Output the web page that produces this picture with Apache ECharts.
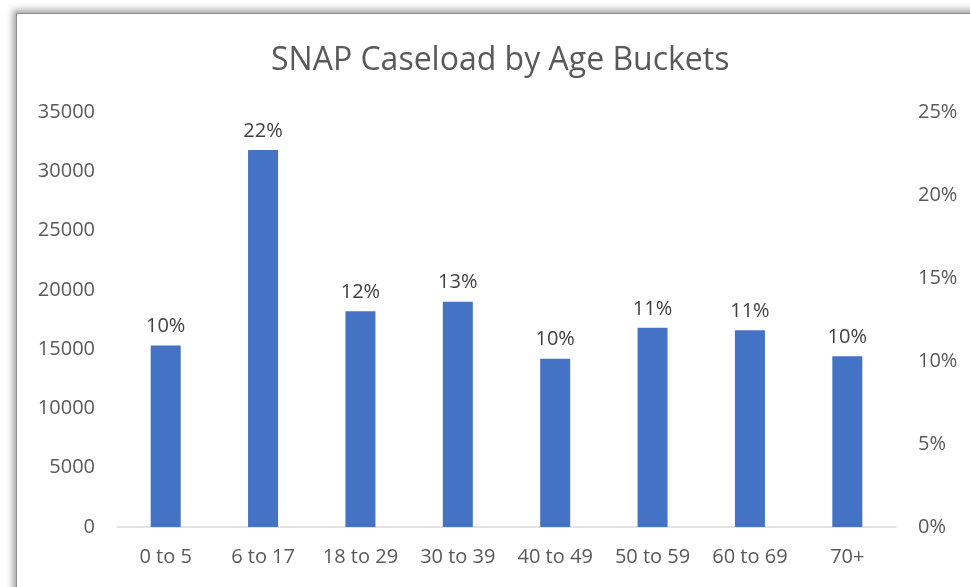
<!DOCTYPE html>
<html>
<head>
<meta charset="utf-8">
<script src="https://cdn.jsdelivr.net/npm/echarts@6/dist/echarts.min.js"></script>
<style>
  html, body { margin: 0; padding: 0; width: 970px; height: 587px; overflow: hidden; background: #ffffff; }
  #frame {
    position: absolute; left: 16px; top: 13px; width: 1000px; height: 620px;
    background: #ffffff; border: 1px solid #8f8f8f;
    box-shadow: 0 0 7px 3px rgba(0, 0, 0, 0.38);
  }
  #chart { position: absolute; left: 0; top: 0; width: 970px; height: 587px; }
</style>
</head>
<body>
<div id="frame"></div>
<div id="chart"></div>
<script>
// Age buckets and number of SNAP cases in each
const categories = ['0 to 5', '6 to 17', '18 to 29', '30 to 39', '40 to 49', '50 to 59', '60 to 69', '70+'];
const caseCounts = [15300, 31800, 18200, 19000, 14200, 16800, 16600, 14400];

// Left axis ticks (cases) and right axis ticks (share of caseload)
const countTicks = { min: 0, max: 35000, interval: 5000 };
const shareTicks = { min: 0, max: 0.25, interval: 0.05 };

const totalCases = caseCounts.reduce((a, b) => a + b, 0);
const FONT = '"Open Sans", "Noto Sans", sans-serif';

const chart = echarts.init(document.getElementById('chart'), null, { renderer: 'canvas' });
chart.setOption({
  backgroundColor: 'transparent',
  animation: false,
  title: {
    text: 'SNAP Caseload by Age Buckets',
    left: 266,
    top: 40,
    textStyle: { fontFamily: FONT, fontSize: 32, fontWeight: 'normal', color: '#595959' }
  },
  grid: { left: 117, right: 74, top: 112, bottom: 60 },
  xAxis: {
    type: 'category',
    data: categories,
    axisLine: { lineStyle: { color: '#d9d9d9', width: 1.5 } },
    axisTick: { show: false },
    axisLabel: { interval: 0, fontFamily: FONT, fontSize: 20, color: '#595959', margin: 20 }
  },
  yAxis: [
    {
      type: 'value',
      min: countTicks.min, max: countTicks.max, interval: countTicks.interval,
      splitLine: { show: false },
      axisLine: { show: false },
      axisTick: { show: false },
      axisLabel: {
        fontFamily: FONT, fontSize: 20, color: '#595959', margin: 22,
        formatter: v => String(v)
      }
    },
    {
      type: 'value',
      position: 'right',
      min: shareTicks.min, max: shareTicks.max, interval: shareTicks.interval,
      splitLine: { show: false },
      axisLine: { show: false },
      axisTick: { show: false },
      axisLabel: {
        fontFamily: FONT, fontSize: 20, color: '#595959', margin: 22,
        formatter: v => Math.round(v * 100) + '%'
      }
    }
  ],
  series: [
    {
      name: 'Cases',
      type: 'bar',
      yAxisIndex: 0,
      data: caseCounts,
      barWidth: 30,
      itemStyle: { color: '#4472C4' },
      label: {
        show: true,
        position: 'top',
        distance: 9,
        fontFamily: FONT, fontSize: 20, color: '#404040',
        formatter: p => Math.round(p.value / totalCases * 100) + '%'
      }
    }
  ]
});
</script>
</body>
</html>
